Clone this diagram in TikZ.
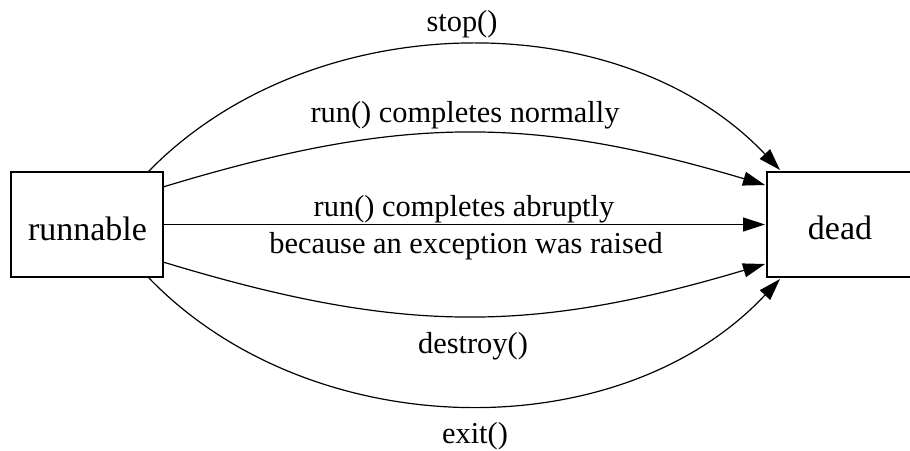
\documentclass[tikz,border=0pt]{standalone}
\usepackage{fontspec}
\setmainfont{Liberation Serif}
\usetikzlibrary{arrows.meta}
\tikzset{
  statebox/.style={draw, line width=2.4pt, minimum width=152pt, minimum height=105pt, inner sep=0pt, font=\fontsize{34}{40}\selectfont},
  edge/.style={line width=1.2pt, -{Triangle[length=22pt,width=14pt]}},
  lbl/.style={anchor=base, inner sep=0pt, font=\fontsize{30.4}{36}\selectfont},
}
\begin{document}
\begin{tikzpicture}[x=1pt,y=-1pt]
\useasboundingbox (0,0) rectangle (910,450);
\node[statebox] (run) at (87,224.5) {};
\node[statebox] (dead) at (843,224.5) {};
\node[anchor=base, inner sep=0pt, font=\fontsize{34}{40}\selectfont] (runt) at (87.5,240) {runnable};
\node[anchor=base, inner sep=0pt, font=\fontsize{34}{40}\selectfont] (deadt) at (840,239) {dead};
\coordinate (a1) at (148,172);
\coordinate (b1) at (780,170);
\coordinate (a2) at (163,187);
\coordinate (b2) at (765,185);
\coordinate (a3) at (163,224.5);
\coordinate (b3) at (765,224.5);
\coordinate (a4) at (163,262);
\coordinate (b4) at (765,264);
\coordinate (a5) at (148,277);
\coordinate (b5) at (780,279);
\draw[edge] (a1) .. controls (310,5) and (620,1) .. (b1);
\draw[edge] (a2) .. controls (400,115) and (530,115) .. (b2);
\draw[edge] (a3) -- (b3);
\draw[edge] (a4) .. controls (400,334) and (530,334) .. (b4);
\draw[edge] (a5) .. controls (310,446) and (620,450) .. (b5);
\node[lbl] (l1) at (462,31) {stop()};
\node[lbl] (l2) at (465,122) {run() completes normally};
\node[lbl] (l3) at (464,216) {run() completes abruptly};
\node[lbl] (l4) at (466,253) {because an exception was raised};
\node[lbl] (l5) at (473,353) {destroy()};
\node[lbl] (l6) at (475,443) {exit()};
\end{tikzpicture}
\end{document}
